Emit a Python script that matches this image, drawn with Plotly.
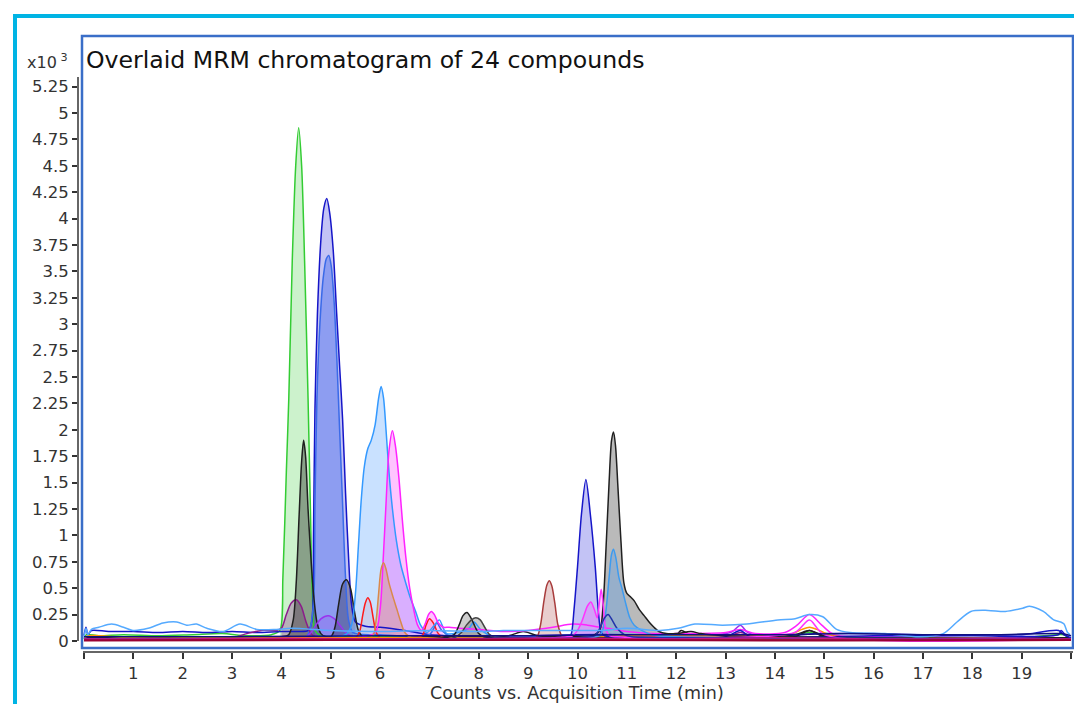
import plotly.graph_objects as go

# ---------------- data (time in min, counts x10^3) ----------------
x_tick_vals = list(range(1, 20))
x_tick_text = [str(i) for i in range(1, 20)]
x_end_ticks = [0, 20]
y_tick_vals = [0, 0.25, 0.5, 0.75, 1, 1.25, 1.5, 1.75, 2, 2.25, 2.5, 2.75, 3, 3.25, 3.5, 3.75, 4, 4.25, 4.5, 4.75, 5, 5.25]
y_tick_text = ["0", "0.25", "0.5", "0.75", "1", "1.25", "1.5", "1.75", "2", "2.25", "2.5", "2.75", "3", "3.25", "3.5", "3.75", "4", "4.25", "4.5", "4.75", "5", "5.25"]

c01_t = [0, 0.05, 0.3, 0.8, 1.5, 2.2, 2.8, 3.3, 3.8, 3.97, 4.03, 4.1, 4.15, 4.22, 4.29, 4.35, 4.41, 4.47, 4.54, 4.59, 4.63, 4.68, 4.8, 5.5, 6.5, 8, 10, 12, 13.5, 14.3, 14.7, 15.1, 16, 17.5, 19, 19.85, 19.95]
c01_y = [0.02, 0.06, 0.05, 0.06, 0.05, 0.06, 0.07, 0.05, 0.06, 0.1, 0.6, 1.6, 2.3, 3.6, 4.5, 4.86, 4.5, 3.6, 2.3, 1.2, 0.4, 0.1, 0.05, 0.04, 0.04, 0.03, 0.03, 0.03, 0.03, 0.04, 0.08, 0.04, 0.03, 0.03, 0.03, 0.06, 0.03]

c02_t = [0, 0.04, 0.08, 0.15, 0.5, 1.0, 1.5, 2.0, 2.5, 3.0, 3.5, 4.0, 4.3, 4.55, 4.62, 4.65, 4.68, 4.73, 4.8, 4.86, 4.92, 4.98, 5.05, 5.12, 5.18, 5.24, 5.3, 5.36, 5.42, 5.5, 5.7, 6.0, 6.5, 7.0, 8, 9, 10, 11, 12, 13, 14, 15, 16, 17, 18, 19, 19.75, 19.85, 19.95]
c02_y = [0.05, 0.13, 0.06, 0.1, 0.09, 0.09, 0.08, 0.09, 0.08, 0.09, 0.08, 0.09, 0.09, 0.1, 0.2, 1.0, 2.2, 3.1, 3.8, 4.1, 4.19, 4.05, 3.7, 3.1, 2.6, 2.1, 1.4, 0.8, 0.35, 0.18, 0.14, 0.13, 0.1, 0.06, 0.05, 0.05, 0.06, 0.06, 0.05, 0.05, 0.05, 0.07, 0.07, 0.06, 0.06, 0.06, 0.1, 0.06, 0.04]

c03_t = [0, 0.5, 2, 3.5, 4.5, 4.64, 4.68, 4.72, 4.78, 4.85, 4.91, 4.96, 5.01, 5.07, 5.13, 5.18, 5.24, 5.3, 5.36, 5.45, 6, 7, 7.1, 7.15, 7.25, 7.4, 9, 12, 15, 18, 20]
c03_y = [0.02, 0.03, 0.03, 0.03, 0.04, 0.3, 1.3, 2.3, 3.0, 3.45, 3.62, 3.65, 3.55, 3.2, 2.6, 2.0, 1.3, 0.6, 0.2, 0.08, 0.06, 0.06, 0.13, 0.17, 0.1, 0.05, 0.04, 0.03, 0.04, 0.03, 0.03]

c04_t = [0, 1, 2, 3, 4, 4.15, 4.24, 4.3, 4.36, 4.41, 4.45, 4.49, 4.54, 4.59, 4.65, 4.72, 4.8, 4.9, 5.5, 7, 8.6, 8.9, 9.2, 10, 12, 12.1, 12.3, 13, 14.4, 14.7, 15, 16, 18, 20]
c04_y = [0.03, 0.04, 0.03, 0.03, 0.04, 0.06, 0.2, 0.55, 1.2, 1.7, 1.9, 1.75, 1.25, 0.85, 0.45, 0.18, 0.07, 0.04, 0.03, 0.04, 0.05, 0.09, 0.05, 0.04, 0.06, 0.1, 0.06, 0.06, 0.06, 0.1, 0.05, 0.03, 0.03, 0.03]

c05_t = [0, 1, 2, 3, 3.3, 3.6, 3.9, 4.0, 4.1, 4.2, 4.3, 4.4, 4.5, 4.6, 4.7, 5, 6, 8, 10, 13, 13.3, 13.6, 15, 20]
c05_y = [0.02, 0.02, 0.03, 0.03, 0.07, 0.1, 0.1, 0.12, 0.25, 0.36, 0.39, 0.33, 0.18, 0.07, 0.04, 0.03, 0.03, 0.03, 0.03, 0.04, 0.08, 0.04, 0.03, 0.02]

c06_t = [0, 2, 4, 4.5, 4.6, 4.7, 4.8, 4.95, 5.1, 5.2, 5.3, 5.4, 5.6, 7, 10, 13.1, 13.3, 13.45, 14, 20]
c06_y = [0.02, 0.02, 0.02, 0.04, 0.08, 0.15, 0.21, 0.24, 0.2, 0.14, 0.08, 0.05, 0.03, 0.03, 0.03, 0.08, 0.15, 0.08, 0.03, 0.02]

c07_t = [0, 3, 4.5, 5.0, 5.08, 5.16, 5.24, 5.32, 5.4, 5.48, 5.56, 5.65, 6, 9, 12, 16, 20]
c07_y = [0.01, 0.02, 0.02, 0.04, 0.12, 0.35, 0.54, 0.58, 0.5, 0.28, 0.1, 0.04, 0.03, 0.03, 0.03, 0.02, 0.02]

c08_t = [0, 3, 5, 5.5, 5.58, 5.65, 5.7, 5.75, 5.8, 5.86, 5.92, 6.0, 6.5, 6.85, 6.93, 7.0, 7.08, 7.18, 7.3, 8, 12, 16, 20]
c08_y = [0.01, 0.01, 0.02, 0.03, 0.08, 0.25, 0.36, 0.41, 0.37, 0.22, 0.08, 0.03, 0.03, 0.05, 0.15, 0.21, 0.17, 0.07, 0.03, 0.02, 0.02, 0.02, 0.01]

c09_t = [0, 3, 5, 5.3, 5.42, 5.5, 5.56, 5.62, 5.68, 5.75, 5.82, 5.9, 5.97, 6.02, 6.07, 6.12, 6.18, 6.25, 6.33, 6.42, 6.52, 6.62, 6.72, 6.82, 6.95, 7.1, 7.2, 7.35, 7.8, 7.9, 8.05, 8.3, 9, 12, 16, 20]
c09_y = [0.02, 0.02, 0.03, 0.06, 0.15, 0.45, 0.9, 1.35, 1.65, 1.82, 1.9, 2.05, 2.3, 2.41, 2.3, 2.0, 1.6, 1.25, 0.95, 0.72, 0.55, 0.4, 0.28, 0.15, 0.08, 0.15, 0.2, 0.07, 0.12, 0.18, 0.1, 0.04, 0.03, 0.03, 0.03, 0.02]

c10_t = [0, 3, 5.5, 5.9, 6.0, 6.06, 6.12, 6.18, 6.25, 6.31, 6.38, 6.45, 6.52, 6.6, 6.68, 6.76, 6.84, 6.92, 6.98, 7.04, 7.1, 7.18, 7.28, 7.4, 7.6, 8.0, 8.5, 9.0, 9.5, 9.9, 10.2, 10.6, 11, 11.5, 12, 13, 13.3, 13.6, 14.2, 14.45, 14.7, 14.95, 15.2, 16, 18, 20]
c10_y = [0.02, 0.02, 0.03, 0.08, 0.3, 0.75, 1.3, 1.8, 1.99, 1.85, 1.55, 1.15, 0.8, 0.5, 0.3, 0.15, 0.1, 0.17, 0.25, 0.28, 0.25, 0.17, 0.13, 0.13, 0.12, 0.11, 0.09, 0.1, 0.13, 0.16, 0.15, 0.12, 0.09, 0.07, 0.07, 0.08, 0.11, 0.07, 0.08, 0.15, 0.25, 0.15, 0.06, 0.04, 0.03, 0.02]

c11_t = [0, 3, 5.5, 5.85, 5.92, 5.97, 6.02, 6.07, 6.12, 6.18, 6.26, 6.34, 6.42, 6.5, 6.6, 7, 10, 14, 20]
c11_y = [0.01, 0.02, 0.02, 0.05, 0.2, 0.45, 0.68, 0.74, 0.68, 0.55, 0.42, 0.3, 0.18, 0.08, 0.04, 0.03, 0.02, 0.02, 0.01]

c12_t = [0, 0.1, 1, 2, 3, 4, 6, 8, 10, 11, 12, 13, 14, 14.35, 14.55, 14.7, 14.85, 15.1, 15.5, 17, 19, 20]
c12_y = [0.03, 0.05, 0.03, 0.03, 0.03, 0.03, 0.03, 0.03, 0.03, 0.05, 0.05, 0.05, 0.05, 0.07, 0.11, 0.13, 0.11, 0.06, 0.03, 0.03, 0.02, 0.02]

c13_t = [0, 5, 7.3, 7.5, 7.6, 7.68, 7.76, 7.84, 7.92, 8.0, 8.1, 8.3, 9, 12, 14.4, 14.7, 15, 20]
c13_y = [0.02, 0.02, 0.03, 0.06, 0.15, 0.24, 0.27, 0.22, 0.14, 0.07, 0.04, 0.03, 0.03, 0.03, 0.04, 0.1, 0.04, 0.02]

c14_t = [0, 6, 7.5, 7.65, 7.75, 7.85, 7.94, 8.03, 8.12, 8.22, 8.35, 9, 20]
c14_y = [0.02, 0.02, 0.03, 0.08, 0.15, 0.2, 0.22, 0.2, 0.13, 0.06, 0.03, 0.02, 0.02]

c15_t = [0, 5, 9.0, 9.18, 9.25, 9.32, 9.38, 9.43, 9.48, 9.54, 9.6, 9.68, 9.8, 12, 20]
c15_y = [0.01, 0.01, 0.02, 0.04, 0.15, 0.38, 0.53, 0.57, 0.52, 0.36, 0.16, 0.05, 0.02, 0.02, 0.01]

c16_t = [0, 5, 9.5, 9.82, 9.87, 9.93, 10.0, 10.08, 10.17, 10.26, 10.36, 10.42, 10.48, 10.55, 10.7, 11, 13, 13.3, 13.5, 15, 16, 18, 19.75, 19.8, 19.9, 20]
c16_y = [0.02, 0.02, 0.03, 0.04, 0.06, 0.3, 0.7, 1.2, 1.53, 1.2, 0.7, 0.3, 0.08, 0.05, 0.04, 0.03, 0.04, 0.1, 0.04, 0.04, 0.05, 0.05, 0.06, 0.1, 0.05, 0.03]

c17_t = [0, 5, 9.5, 10.3, 10.45, 10.52, 10.58, 10.64, 10.69, 10.73, 10.77, 10.82, 10.88, 10.94, 11.0, 11.07, 11.15, 11.25, 11.35, 11.45, 11.55, 11.65, 11.8, 12.0, 12.3, 12.5, 13, 20]
c17_y = [0.02, 0.02, 0.03, 0.05, 0.1, 0.35, 0.9, 1.5, 1.9, 1.98, 1.85, 1.45, 0.95, 0.55, 0.45, 0.42, 0.38, 0.3, 0.24, 0.18, 0.13, 0.09, 0.07, 0.07, 0.09, 0.07, 0.05, 0.02]

c18_t = [0, 5, 10, 10.45, 10.52, 10.58, 10.64, 10.69, 10.73, 10.78, 10.84, 10.9, 10.98, 11.06, 11.15, 11.3, 11.5, 12, 20]
c18_y = [0.02, 0.02, 0.03, 0.05, 0.12, 0.3, 0.6, 0.82, 0.87, 0.78, 0.6, 0.5, 0.35, 0.22, 0.15, 0.1, 0.06, 0.04, 0.02]

c19_t = [0, 5, 9.5, 9.9, 10.0, 10.1, 10.2, 10.27, 10.34, 10.4, 10.44, 10.48, 10.52, 10.57, 10.65, 10.8, 12, 14.4, 14.7, 15, 20]
c19_y = [0.02, 0.02, 0.03, 0.05, 0.1, 0.2, 0.33, 0.37, 0.3, 0.22, 0.35, 0.49, 0.35, 0.12, 0.05, 0.04, 0.03, 0.08, 0.2, 0.06, 0.02]

c20_t = [0, 5, 10, 10.35, 10.45, 10.55, 10.62, 10.7, 10.8, 10.95, 11.1, 12, 20]
c20_y = [0.02, 0.02, 0.03, 0.05, 0.12, 0.22, 0.25, 0.2, 0.12, 0.06, 0.04, 0.03, 0.02]

c21_t = [0, 0.04, 0.08, 0.15, 0.3, 0.56, 0.8, 0.99, 1.3, 1.6, 1.88, 2.08, 2.28, 2.49, 2.82, 3.16, 3.5, 3.9, 4.2, 5, 6, 7, 8, 8.5, 9, 9.5, 10, 10.5, 11, 11.67, 12.04, 12.38, 12.94, 13.43, 14.06, 14.41, 14.69, 14.97, 15.25, 15.52, 16.23, 16.93, 17.41, 17.69, 17.97, 18.32, 18.67, 19.02, 19.16, 19.44, 19.65, 19.79, 19.86, 19.93, 19.98]
c21_y = [0.03, 0.12, 0.06, 0.11, 0.13, 0.16, 0.13, 0.10, 0.12, 0.17, 0.18, 0.15, 0.16, 0.12, 0.09, 0.16, 0.11, 0.11, 0.12, 0.1, 0.09, 0.1, 0.09, 0.1, 0.1, 0.1, 0.1, 0.1, 0.12, 0.1, 0.12, 0.16, 0.15, 0.16, 0.2, 0.21, 0.25, 0.23, 0.11, 0.08, 0.07, 0.04, 0.07, 0.18, 0.28, 0.29, 0.28, 0.31, 0.33, 0.28, 0.2, 0.18, 0.16, 0.08, 0.06]

c22_t = [0, 5, 10, 15, 20]
c22_y = [0.005, 0.01, 0.01, 0.005, 0.01]

c23_t = [0, 2, 4, 6, 8, 10, 12, 14, 16, 18, 20]
c23_y = [0.02, 0.02, 0.025, 0.02, 0.02, 0.025, 0.02, 0.03, 0.02, 0.02, 0.02]

c24_t = [0, 3, 6, 9, 11, 12, 14, 15.5, 17, 18.5, 19.8, 20]
c24_y = [0.04, 0.04, 0.05, 0.05, 0.06, 0.06, 0.06, 0.07, 0.06, 0.06, 0.07, 0.05]

# integration windows of the shaded peaks
c01_win = [(3.97, 4.68)]
c02_win = [(4.55, 5.5)]
c03_win = [(4.6, 5.45)]
c04_win = [(4.15, 4.8)]
c05_win = [(3.95, 4.7)]
c06_win = [(4.5, 5.45)]
c07_win = [(5.0, 5.65)]
c08_win = [(5.5, 6.0), (6.85, 7.3)]
c09_win = [(5.3, 6.95)]
c10_win = [(5.9, 7.35)]
c11_win = [(5.85, 6.6)]
c13_win = [(7.45, 8.2)]
c14_win = [(7.6, 8.35)]
c15_win = [(9.15, 9.75)]
c16_win = [(9.82, 10.55)]
c17_win = [(10.4, 11.8)]
c18_win = [(10.45, 11.5)]
c19_win = [(9.9, 10.65)]

# ---------------- styles ----------------
series = [
    (c01_t, c01_y, "#33cc33", "rgba(51,204,51,0.25)", c01_win),
    (c02_t, c02_y, "#1515c8", "rgba(40,40,220,0.28)", c02_win),
    (c03_t, c03_y, "#3a6ae8", "rgba(60,100,235,0.40)", c03_win),
    (c05_t, c05_y, "#8b1c8b", "rgba(139,28,139,0.30)", c05_win),
    (c04_t, c04_y, "#202020", "rgba(30,30,30,0.38)", c04_win),
    (c06_t, c06_y, "#9933ee", "rgba(153,51,238,0.20)", c06_win),
    (c07_t, c07_y, "#202020", "rgba(30,30,60,0.35)", c07_win),
    (c08_t, c08_y, "#ff1a1a", "rgba(255,40,40,0.15)", c08_win),
    (c09_t, c09_y, "#3399ff", "rgba(120,180,255,0.40)", c09_win),
    (c10_t, c10_y, "#ff22ff", "rgba(255,60,255,0.30)", c10_win),
    (c11_t, c11_y, "#d9894a", "rgba(217,137,74,0.30)", c11_win),
    (c12_t, c12_y, "#ff9900", None, []),
    (c13_t, c13_y, "#202020", "rgba(60,60,60,0.25)", c13_win),
    (c14_t, c14_y, "#444444", "rgba(80,80,80,0.30)", c14_win),
    (c15_t, c15_y, "#a83c3c", "rgba(168,60,60,0.25)", c15_win),
    (c16_t, c16_y, "#1515c8", "rgba(40,40,220,0.28)", c16_win),
    (c17_t, c17_y, "#202020", "rgba(40,40,40,0.32)", c17_win),
    (c18_t, c18_y, "#3d9bf0", "rgba(70,150,240,0.30)", c18_win),
    (c19_t, c19_y, "#ff33ff", "rgba(255,60,255,0.25)", c19_win),
    (c20_t, c20_y, "#2233aa", None, []),
    (c21_t, c21_y, "#55aaff", None, []),
    (c23_t, c23_y, "#c71585", None, []),
    (c24_t, c24_y, "#101080", None, []),
    (c22_t, c22_y, "#990033", None, []),
]

fig = go.Figure()

# shaded peak areas first
for t, y, col, fcol, wins in series:
    for (a, b) in wins:
        ft = [ti for ti in t if a <= ti <= b]
        fy = [yi for ti, yi in zip(t, y) if a <= ti <= b]
        fig.add_trace(go.Scatter(x=ft, y=fy, mode="lines", fill="tozeroy",
                                 fillcolor=fcol, line=dict(width=0, shape="spline", smoothing=0.8),
                                 hoverinfo="skip", showlegend=False))

# chromatogram lines
for t, y, col, fcol, wins in series:
    w = 2.2 if col == "#990033" else 1.5
    fig.add_trace(go.Scatter(x=t, y=y, mode="lines",
                             line=dict(color=col, width=w, shape="spline", smoothing=0.8),
                             hoverinfo="skip", showlegend=False))

# page body has an 8px margin: the figure is laid out in reference pixels minus OFF
OFF = 8
W, H = 1082 - OFF, 704 - OFF
L, R, T, B = 70, 9, 69, 52
pw, ph = W - L - R, H - T - B

def px(xp):
    return (xp - OFF - L) / pw

def py(yp):
    return (H - B - (yp - OFF)) / ph

tickfont = dict(family="DejaVu Sans, Liberation Sans, sans-serif", size=16.5, color="#333333")

fig.update_layout(
    width=W, height=H, autosize=False,
    margin=dict(l=L, r=R, t=T, b=B, pad=0),
    paper_bgcolor="white", plot_bgcolor="white",
    xaxis=dict(range=[-6 / 49.35, -6 / 49.35 + pw / 49.35], tickmode="array",
               tickvals=x_tick_vals, ticktext=x_tick_text, ticks="outside", ticklen=6,
               tickwidth=1.5, tickcolor="#333333", showgrid=False, zeroline=False,
               showline=False, tickfont=tickfont,
               minor=dict(tickmode="array", tickvals=x_end_ticks, ticks="outside",
                          ticklen=6, tickwidth=1.5, tickcolor="#333333", showgrid=False)),
    yaxis=dict(range=[-11 / 105.6, 564 / 105.6], tickmode="array",
               tickvals=y_tick_vals, ticktext=y_tick_text, ticks="outside", ticklen=5,
               tickwidth=1.5, tickcolor="#333333", showgrid=False, zeroline=False,
               showline=False, tickfont=tickfont),
    shapes=[
        dict(type="line", xref="paper", yref="y", x0=0, x1=0, y0=0, y1=564 / 105.6,
             line=dict(color="#333333", width=1.5)),
        dict(type="line", xref="paper", yref="paper", x0=px(83), x1=px(1073), y0=0, y1=0,
             line=dict(color="#333333", width=1.5)),
        dict(type="rect", xref="paper", yref="paper", x0=px(82), x1=px(1073),
             y0=py(648), y1=py(36), line=dict(color="#3a6ec8", width=2.5)),
        dict(type="path", xref="paper", yref="paper",
             path=f"M {px(15)},{py(760)} L {px(15)},{py(16)} L {px(1120)},{py(16)}",
             line=dict(color="#00b4e4", width=4)),
    ],
    annotations=[
        dict(text="Overlaid MRM chromatogram of 24 compounds", xref="paper", yref="paper",
             x=px(84), y=py(60), xanchor="left", yanchor="middle", showarrow=False,
             font=dict(family="DejaVu Sans, sans-serif", size=23.6, color="#111111")),
        dict(text="x10<sup> 3</sup>", xref="paper", yref="paper",
             x=px(70), y=py(61), xanchor="right", yanchor="middle", showarrow=False,
             font=dict(family="DejaVu Sans, sans-serif", size=16, color="#333333")),
        dict(text="Counts vs. Acquisition Time (min)", xref="paper", yref="paper",
             x=px(577), y=py(693), xanchor="center", yanchor="middle", showarrow=False,
             font=dict(family="DejaVu Sans, sans-serif", size=17.5, color="#333333")),
    ],
)

fig.write_html("out.html")
